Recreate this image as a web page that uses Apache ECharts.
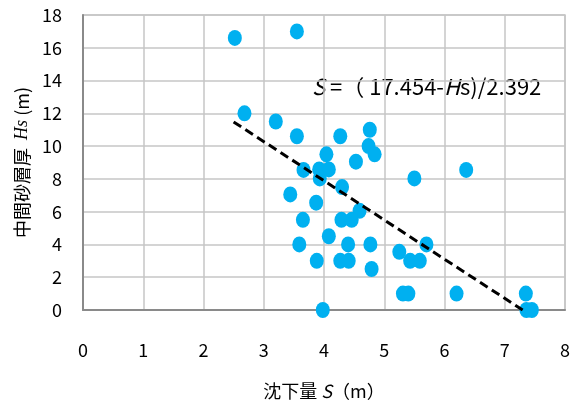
<!DOCTYPE html>
<html>
<head>
<meta charset="utf-8">
<script src="https://cdn.jsdelivr.net/npm/echarts@6/dist/echarts.min.js"></script>
<style>html,body{margin:0;padding:0;background:#fff;}#c{width:570px;height:408px;}</style>
</head>
<body>
<div id="c"></div>
<script>
// Settlement S (m)
const settlementS = [2.52, 3.55, 2.68, 3.2, 3.55, 4.27, 4.76, 4.74, 4.84, 4.04, 4.53, 3.66, 3.92, 4.08, 3.93, 5.5, 6.36, 4.30, 3.44, 3.87, 4.59, 3.65, 4.29, 4.46, 4.08, 3.59, 4.40, 4.77, 5.70, 5.25, 3.88, 4.27, 4.41, 5.43, 5.59, 4.79, 5.31, 5.40, 6.2, 7.35, 3.98, 7.36, 7.45];
// Intermediate sand layer thickness Hs (m)
const thicknessHs = [16.6, 17.0, 12.0, 11.5, 10.6, 10.6, 11.0, 10.0, 9.5, 9.5, 9.05, 8.55, 8.58, 8.58, 8.03, 8.03, 8.55, 7.5, 7.05, 6.55, 6.05, 5.5, 5.5, 5.5, 4.5, 4.0, 4.0, 4.0, 4.0, 3.55, 3.0, 3.0, 3.0, 3.0, 3.0, 2.5, 1.0, 1.0, 1.0, 1.0, 0, 0, 0];
// Trend line S = (a - Hs) / b
const trendA = 17.454;
const trendB = 2.392;
const trendStartS = 2.5;
const xTicks = [0, 1, 2, 3, 4, 5, 6, 7, 8];
const yTicks = [0, 2, 4, 6, 8, 10, 12, 14, 16, 18];

const pts = settlementS.map((s, i) => [s, thicknessHs[i]]);
const trendEndS = trendA / trendB;
const trend = [[trendStartS, trendA - trendB * trendStartS], [trendEndS, 0]];

const font = '"Noto Sans CJK JP", "Noto Sans", sans-serif';
const chart = echarts.init(document.getElementById('c'));
chart.setOption({
  animation: false,
  grid: { left: 83, right: 5, top: 15, bottom: 98, containLabel: false, outerBoundsMode: 'none',
          show: true, borderColor: '#c6c6c6', borderWidth: 1.5, backgroundColor: 'transparent' },
  xAxis: {
    type: 'value', min: xTicks[0], max: xTicks[xTicks.length - 1], interval: 1,
    axisLine: { show: true, onZero: false, lineStyle: { color: '#8a8a8a', width: 2 } },
    axisTick: { show: false },
    splitLine: { show: true, lineStyle: { color: '#c6c6c6', width: 1.5 } },
    axisLabel: { margin: 31, color: '#000', fontSize: 18, fontFamily: font },
    name: '{c|沈下量 }{i|S}{c|（m）}',
    nameLocation: 'middle', nameGap: 72,
    nameTextStyle: {
      rich: {
        c: { fontSize: 18, fontFamily: font, color: '#000' },
        i: { fontSize: 18, fontFamily: font, fontStyle: 'italic', color: '#000' }
      }
    }
  },
  yAxis: {
    type: 'value', min: yTicks[0], max: yTicks[yTicks.length - 1], interval: 2,
    axisLine: { show: true, onZero: false, lineStyle: { color: '#8a8a8a', width: 2 } },
    axisTick: { show: false },
    splitLine: { show: true, lineStyle: { color: '#c6c6c6', width: 1.5 } },
    axisLabel: { margin: 21, color: '#000', fontSize: 18, fontFamily: font },
    name: '{c|中間砂層厚  }{i|Hs}{c| (m)}',
    nameLocation: 'middle', nameGap: 44, nameRotate: 90,
    nameTextStyle: {
      rich: {
        c: { fontSize: 18, fontFamily: font, color: '#000' },
        i: { fontSize: 18, fontFamily: '"Liberation Serif", serif', fontStyle: 'italic', color: '#000' }
      }
    }
  },
  graphic: [{
    type: 'text', left: 312, top: 76,
    style: {
      text: '{i|S}{n| =（ 17.454-}{i|H}{n|s)/2.392}',
      rich: {
        n: { fontSize: 22, fontFamily: font, fill: '#000' },
        i: { fontSize: 22, fontFamily: font, fontStyle: 'italic', fill: '#000' }
      }
    }
  }],
  series: [{
    type: 'scatter', data: pts, symbol: 'circle', symbolSize: [14, 16],
    itemStyle: { color: '#00b0f0', opacity: 1 }, z: 3
  }, {
    type: 'line', data: trend, symbol: 'none', z: 4,
    lineStyle: { color: '#000', width: 3, type: [9, 5] }
  }]
});
</script>
</body>
</html>
